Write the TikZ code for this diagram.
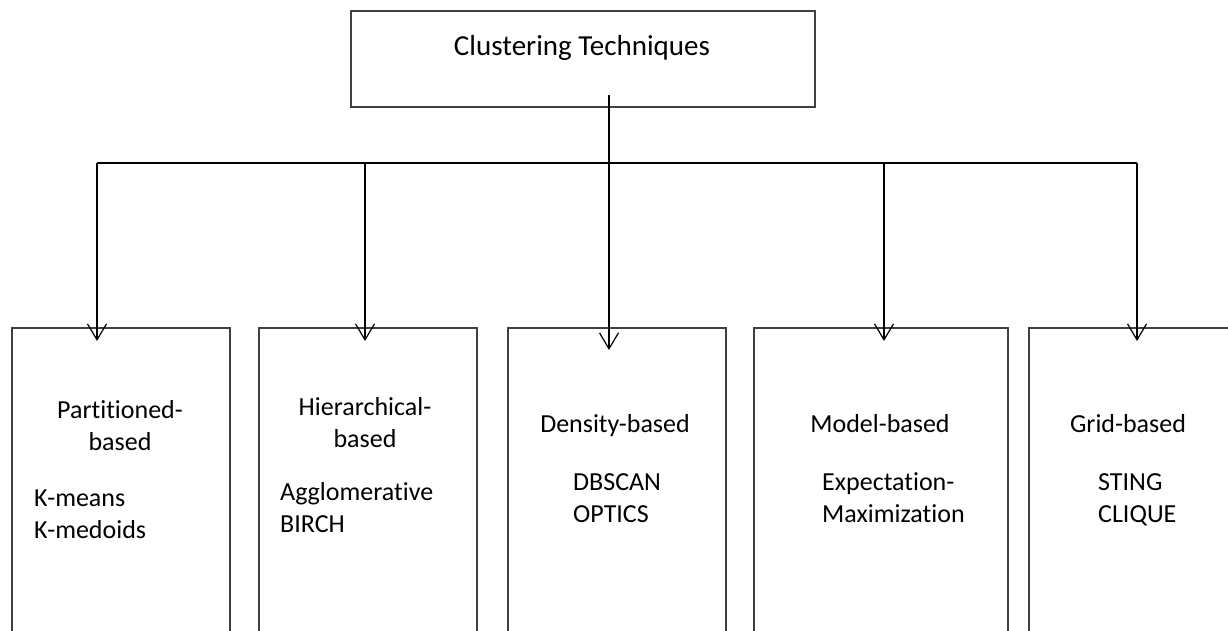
\documentclass[tikz,border=0pt]{standalone}
\usepackage{fontspec}
\setmainfont{Carlito}[Ligatures={NoCommon}]
\usetikzlibrary{arrows.meta,positioning,calc}
\definecolor{boxgray}{RGB}{64,64,64}

\begin{document}
\begin{tikzpicture}[x=1pt, y=-1pt,
    every node/.style={font=\fontsize{26}{32}\selectfont, inner sep=0pt},
    catbox/.style={draw=boxgray, line width=2pt, minimum height=330pt, anchor=north west},
    link/.style={black, line width=1.2pt},
    arr/.style={link, -{Straight Barb[length=16pt, width=19pt, line width=1.2pt]}, shorten >=-14pt}]
  \clip (0,0) rectangle (1228,630);

  % root box
  \node[draw=boxgray, line width=2pt, minimum width=464pt, minimum height=96pt, anchor=north west] (root) at (350,10) {};
  \node[font=\fontsize{29}{35}\selectfont, anchor=base] (title) at (582,55) {Clustering Techniques};

  % category boxes
  \node[catbox, minimum width=218pt] (part) at (11,327) {};
  \node[catbox, minimum width=218pt] (hier) at (258,327) {};
  \node[catbox, minimum width=218pt] (dens) at (507,327) {};
  \node[catbox, minimum width=254pt] (model) at (753,327) {};
  \node[catbox, minimum width=210pt] (grid) at (1028,327) {};

  % headings (base = last line)
  \node[align=center, anchor=base] (parthead) at (120,450) {Partitioned-\\based};
  \node[align=center, anchor=base] (hierhead) at (365,447) {Hierarchical-\\based};
  \node[anchor=base] (denshead) at (615,432) {Density-based};
  \node[anchor=base] (modelhead) at (880,432) {Model-based};
  \node[anchor=base] (gridhead) at (1128,432) {Grid-based};

  % algorithms
  \node[align=left, anchor=base west] (partalg) at (34,538) {K-means\\K-medoids};
  \node[align=left, anchor=base west] (hieralg) at (280,532) {Agglomerative\\BIRCH};
  \node[align=left, anchor=base west] (densalg) at (573,522) {DBSCAN\\OPTICS};
  \node[align=left, anchor=base west] (modelalg) at (822,522) {Expectation-\\Maximization};
  \node[align=left, anchor=base west] (gridalg) at (1098,522) {STING\\CLIQUE};

  % connectors
  \coordinate (busL) at (97,163);
  \coordinate (busR) at (1137,163);
  \coordinate (hub) at (609,95);
  \draw[link] (busL) -- (busR);
  \draw[arr, shorten >=-23pt] (hub) -- (hub |- dens.north);
  \foreach \x/\cat in {97/part, 365/hier, 884/model, 1137/grid} {
    \draw[arr] (\x,163) coordinate (drop) -- (drop |- \cat.north);
  }
\end{tikzpicture}
\end{document}
